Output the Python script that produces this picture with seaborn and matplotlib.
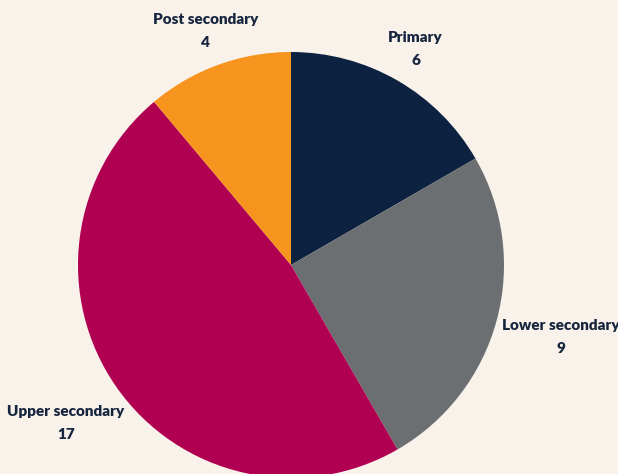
import numpy as np
import matplotlib
matplotlib.use("Agg")
import matplotlib.pyplot as plt
import seaborn as sns

# data
levels = ["Primary", "Lower secondary", "Upper secondary", "Post secondary"]
counts = [6, 9, 17, 4]

colors = sns.color_palette(["#0d2240", "#6b6f72", "#b00052", "#f7941d"])
label_dist = [1.17, 1.31, 1.29, 1.17]

sns.set_theme(style="white")
plt.rcParams['font.family'] = ['Lato', 'DejaVu Sans']

bg = "#f9f2eb"
fig = plt.figure(figsize=(6.18, 4.74), dpi=100, facecolor=bg)
ax = fig.add_axes([0, 0, 1, 1])
ax.set_facecolor(bg)

R = 213
wedges, _ = ax.pie(counts, colors=colors, startangle=90, counterclock=False,
                   radius=R, center=(0, 0), wedgeprops=dict(linewidth=0))

for w, lab, n, d in zip(wedges, levels, counts, label_dist):
    mid = np.deg2rad((w.theta1 + w.theta2) / 2)
    x, y = R * d * np.cos(mid), R * d * np.sin(mid)
    ax.text(x, y, f"{lab}\n{n}", ha="center", va="center", fontsize=11,
            fontweight="heavy", color="#17263f", linespacing=1.9)

ax.set_xlim(-291, 327)
ax.set_ylim(-209, 265)
ax.set_aspect("auto")
ax.axis("off")

fig.savefig("out.png", dpi=100, facecolor=bg)
